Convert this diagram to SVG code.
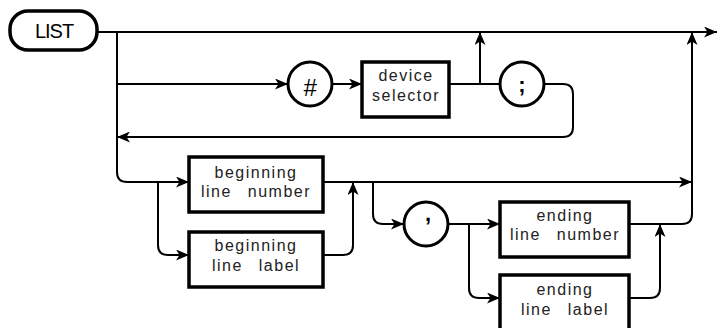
<svg xmlns="http://www.w3.org/2000/svg" width="719" height="328" viewBox="0 0 719 328">
<defs>
<style>
.bg{fill:#fff}
.ln{fill:none;stroke:#000;stroke-width:2;stroke-linejoin:round}
.box{fill:#fff;stroke:#000;stroke-width:3.5}
.cir{fill:#fff;stroke:#000;stroke-width:3}
.t{font-family:"Liberation Sans",Arial,sans-serif;font-size:16px;letter-spacing:1.5px;word-spacing:10px;fill:#222;text-anchor:middle}
.k{font-family:"Liberation Sans",Arial,sans-serif;fill:#000;text-anchor:middle}
</style>
<marker id="ah" viewBox="0 0 13 11" refX="13" refY="5.5" markerWidth="13" markerHeight="11" markerUnits="userSpaceOnUse" orient="auto">
<path d="M0,0 L13,5.5 L0,11 L3.5,5.5 z" fill="#000"/>
</marker>
</defs>
<rect class="bg" x="0" y="0" width="719" height="328"/>
<g id="connectors">
<path class="ln" d="M97,32 H717" marker-end="url(#ah)"/>
<path class="ln" d="M117,32 V172 Q117,182 127,182 H189" marker-end="url(#ah)"/>
<path class="ln" d="M117,84 H288" marker-end="url(#ah)"/>
<path class="ln" d="M332,84 H362" marker-end="url(#ah)"/>
<path class="ln" d="M449,84 H500"/>
<path class="ln" d="M480,84 V32" marker-end="url(#ah)"/>
<path class="ln" d="M544,84 H563 Q573,84 573,94 V127 Q573,137 563,137 H117" marker-end="url(#ah)"/>
<path class="ln" d="M158,182 V245 Q158,255 168,255 H189" marker-end="url(#ah)"/>
<path class="ln" d="M322,255 H343 Q353,255 353,245 V182" marker-end="url(#ah)"/>
<path class="ln" d="M322,182 H692" marker-end="url(#ah)"/>
<path class="ln" d="M373,182 V214 Q373,224 383,224 H404" marker-end="url(#ah)"/>
<path class="ln" d="M448,224 H500" marker-end="url(#ah)"/>
<path class="ln" d="M469,224 V288 Q469,298 479,298 H500" marker-end="url(#ah)"/>
<path class="ln" d="M629,298 H650 Q660,298 660,288 V224" marker-end="url(#ah)"/>
<path class="ln" d="M629,224 H682 Q692,224 692,214 V32" marker-end="url(#ah)"/>
</g>
<g id="list">
<rect class="box" x="10" y="11" width="87" height="39" rx="18" ry="18"/>
<text class="k" x="54" y="38" font-size="20" letter-spacing="-1">LIST</text>
</g>
<g id="hash">
<circle class="cir" cx="310" cy="84" r="22"/>
<text class="k" x="310" y="96" font-size="24" font-style="italic">#</text>
</g>
<g id="device-selector">
<rect class="box" x="362" y="62" width="87" height="55"/>
<text class="t" x="406" y="81">device</text>
<text class="t" x="406" y="101">selector</text>
</g>
<g id="semicolon">
<circle class="cir" cx="522" cy="84" r="22"/>
<text class="k" x="522" y="92" font-size="22" font-weight="bold">;</text>
</g>
<g id="beginning-line-number">
<rect class="box" x="189" y="157" width="134" height="55"/>
<text class="t" x="256" y="178">beginning</text>
<text class="t" x="256" y="197">line number</text>
</g>
<g id="beginning-line-label">
<rect class="box" x="189" y="232" width="134" height="55"/>
<text class="t" x="256" y="251">beginning</text>
<text class="t" x="256" y="271">line label</text>
</g>
<g id="comma">
<circle class="cir" cx="426" cy="224" r="22"/>
<text class="k" x="428" y="221" font-size="22" font-weight="bold">,</text>
</g>
<g id="ending-line-number">
<rect class="box" x="500" y="202" width="129" height="55"/>
<text class="t" x="565" y="221">ending</text>
<text class="t" x="565" y="240">line number</text>
</g>
<g id="ending-line-label">
<rect class="box" x="500" y="275" width="129" height="56"/>
<text class="t" x="565" y="295">ending</text>
<text class="t" x="565" y="315">line label</text>
</g>
</svg>
